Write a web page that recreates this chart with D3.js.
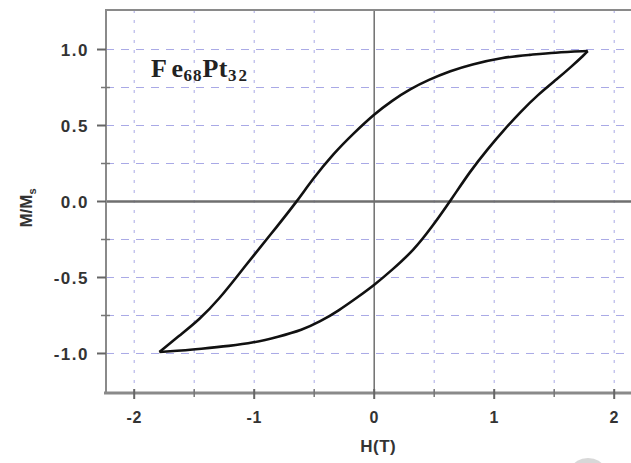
<!DOCTYPE html>
<html>
<head>
<meta charset="utf-8">
<script src="https://cdn.jsdelivr.net/npm/d3@7"></script>
<style>
  html, body { margin: 0; padding: 0; background: #fff; }
  svg { display: block; }
  .tick-label { font-family: Arial, "Liberation Sans", sans-serif; font-weight: bold; fill: #333; }
</style>
</head>
<body>
<div id="chart"></div>
<script>
// hysteresis loop
// descending branch (from +H down to -H)
const upperBranch = [
  [1.78, 0.99], [1.5, 0.98], [1.3, 0.965], [1.08, 0.95], [0.8, 0.90],
  [0.64, 0.86], [0.45, 0.80], [0.30, 0.74], [0.15, 0.665], [0.0, 0.575],
  [-0.17, 0.45], [-0.34, 0.315], [-0.51, 0.15], [-0.645, 0.0], [-0.81, -0.165],
  [-1.01, -0.36], [-1.12, -0.47], [-1.29, -0.64], [-1.46, -0.78], [-1.62, -0.88],
  [-1.79, -0.99]
];
// ascending branch (from -H up to +H)
const lowerBranch = [
  [-1.79, -0.99], [-1.6, -0.98], [-1.46, -0.97], [-1.2, -0.95], [-1.01, -0.93],
  [-0.8, -0.89], [-0.6, -0.845], [-0.45, -0.79], [-0.3, -0.72], [-0.13, -0.625],
  [0.0, -0.55], [0.15, -0.45], [0.33, -0.32], [0.47, -0.18], [0.64, 0.01],
  [0.8, 0.2], [0.95, 0.35], [1.08, 0.47], [1.22, 0.59], [1.36, 0.70],
  [1.53, 0.81], [1.64, 0.885], [1.75, 0.965], [1.78, 0.99]
];

const xTicks = [-2, -1, 0, 1, 2];
const xMinorTicks = [-1.5, -0.5, 0.5, 1.5];
const yTicks = [-1.0, -0.5, 0.0, 0.5, 1.0];
const yMinorTicks = [-0.75, -0.25, 0.25, 0.75];
const yTickLabels = ["-1.0", "-0.5", "0.0", "0.5", "1.0"];

const width = 631, height = 463;
const plotLeft = 106, plotTop = 10, plotBottom = 393, plotRight = 646;

const svg = d3.select('#chart').append('svg')
  .attr('width', width)
  .attr('height', height);

const x = d3.scaleLinear().domain([-2.235, 2.265]).range([plotLeft, plotRight]);
const y = d3.scaleLinear().domain([-1.26, 1.26]).range([plotBottom, plotTop]);

// grid
const gridColor = '#a9a9e6';
svg.append('g').selectAll('line')
  .data(xTicks.concat(xMinorTicks).filter(d => d !== 0))
  .join('line')
  .attr('x1', d => x(d)).attr('x2', d => x(d))
  .attr('y1', plotTop).attr('y2', plotBottom)
  .attr('stroke', gridColor)
  .attr('stroke-width', 1)
  .attr('stroke-dasharray', '3,7');

svg.append('g').selectAll('line')
  .data(yTicks.concat(yMinorTicks).filter(d => d !== 0))
  .join('line')
  .attr('x1', plotLeft).attr('x2', width)
  .attr('y1', d => y(d)).attr('y2', d => y(d))
  .attr('stroke', gridColor)
  .attr('stroke-width', 1)
  .attr('stroke-dasharray', '8,7');

// zero lines
svg.append('line')
  .attr('x1', plotLeft).attr('x2', width)
  .attr('y1', y(0)).attr('y2', y(0))
  .attr('stroke', '#6f6f6f').attr('stroke-width', 2.5);
svg.append('line')
  .attr('x1', x(0)).attr('x2', x(0))
  .attr('y1', plotTop).attr('y2', plotBottom)
  .attr('stroke', '#6f6f6f').attr('stroke-width', 1.5);

// frame
const axisColor = '#8a8a8a';
svg.append('line')
  .attr('x1', plotLeft).attr('x2', width)
  .attr('y1', plotTop).attr('y2', plotTop)
  .attr('stroke', axisColor).attr('stroke-width', 2);
svg.append('line')
  .attr('x1', plotLeft).attr('x2', plotLeft)
  .attr('y1', plotTop - 1).attr('y2', plotBottom + 1)
  .attr('stroke', axisColor).attr('stroke-width', 2);
svg.append('line')
  .attr('x1', plotLeft - 2).attr('x2', width)
  .attr('y1', plotBottom).attr('y2', plotBottom)
  .attr('stroke', axisColor).attr('stroke-width', 3);

// ticks
svg.append('g').selectAll('line')
  .data(yTicks).join('line')
  .attr('x1', plotLeft - 9).attr('x2', plotLeft)
  .attr('y1', d => y(d)).attr('y2', d => y(d))
  .attr('stroke', '#666').attr('stroke-width', 2);
svg.append('g').selectAll('line')
  .data(yMinorTicks).join('line')
  .attr('x1', plotLeft - 5).attr('x2', plotLeft + 4)
  .attr('y1', d => y(d)).attr('y2', d => y(d))
  .attr('stroke', '#777').attr('stroke-width', 1.5);
svg.append('g').selectAll('line')
  .data(xTicks).join('line')
  .attr('x1', d => x(d)).attr('x2', d => x(d))
  .attr('y1', plotBottom - 4).attr('y2', plotBottom + 6)
  .attr('stroke', '#666').attr('stroke-width', 2);
svg.append('g').selectAll('line')
  .data(xMinorTicks).join('line')
  .attr('x1', d => x(d)).attr('x2', d => x(d))
  .attr('y1', plotBottom - 4).attr('y2', plotBottom + 4)
  .attr('stroke', '#777').attr('stroke-width', 1.5);

// tick labels
svg.append('g').selectAll('text')
  .data(yTicks).join('text')
  .attr('class', 'tick-label')
  .attr('x', 89)
  .attr('y', d => y(d))
  .attr('dy', '0.36em')
  .attr('text-anchor', 'end')
  .attr('font-size', 17)
  .attr('letter-spacing', 1.5)
  .text((d, i) => yTickLabels[i]);

svg.append('g').selectAll('text')
  .data(xTicks).join('text')
  .attr('class', 'tick-label')
  .attr('x', d => x(d))
  .attr('y', 423)
  .attr('text-anchor', 'middle')
  .attr('font-size', 16)
  .attr('letter-spacing', 0.5)
  .text(d => d);

// axis titles
svg.append('text')
  .attr('class', 'tick-label')
  .attr('x', x(0) + 4)
  .attr('y', 452)
  .attr('text-anchor', 'middle')
  .attr('font-size', 17)
  .attr('letter-spacing', 0.5)
  .text('H(T)');

const yTitle = svg.append('text')
  .attr('class', 'tick-label')
  .attr('transform', 'translate(32,' + 208 + ') rotate(-90)')
  .attr('text-anchor', 'middle')
  .attr('font-size', 17);
yTitle.append('tspan').text('M/M');
yTitle.append('tspan').attr('dy', 4).attr('font-size', 11).text('s');

// curve
const line = d3.line()
  .x(d => x(d[0]))
  .y(d => y(d[1]))
  .curve(d3.curveBasis);

svg.append('path')
  .datum(upperBranch)
  .attr('d', line)
  .attr('fill', 'none')
  .attr('stroke', '#111')
  .attr('stroke-width', 2.6)
  .attr('stroke-linejoin', 'round');
svg.append('path')
  .datum(lowerBranch)
  .attr('d', line)
  .attr('fill', 'none')
  .attr('stroke', '#111')
  .attr('stroke-width', 2.6)
  .attr('stroke-linejoin', 'round');

// sample label
const label = svg.append('text')
  .attr('x', 151)
  .attr('y', 77)
  .attr('font-family', '"Liberation Serif", "DejaVu Serif", serif')
  .attr('font-weight', 'bold')
  .attr('font-size', 26)
  .attr('letter-spacing', 0.5)
  .attr('fill', '#222');
label.append('tspan').text('F');
label.append('tspan').attr('dx', 4).text('e');
label.append('tspan').attr('dy', 4).attr('font-size', 17).attr('letter-spacing', 1).text('68');
label.append('tspan').attr('dy', -4).text('Pt');
label.append('tspan').attr('dy', 4).attr('font-size', 17).attr('letter-spacing', 2).text('32');

// faint grey mark at the bottom right of the scan
svg.append('ellipse')
  .attr('cx', 588).attr('cy', 467)
  .attr('rx', 15).attr('ry', 9)
  .attr('fill', '#d8d8d8');
</script>
</body>
</html>
